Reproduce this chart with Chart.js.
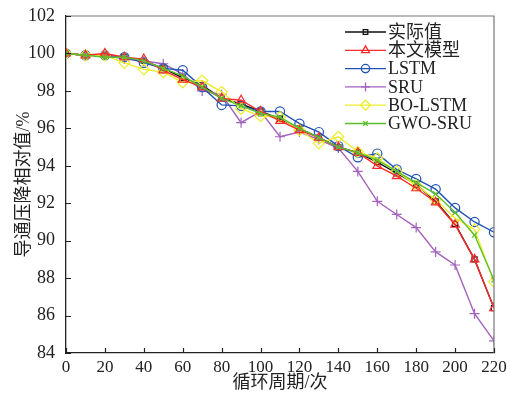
<!DOCTYPE html>
<html>
<head>
<meta charset="utf-8">
<script src="https://cdn.jsdelivr.net/npm/chart.js@4/dist/chart.umd.min.js"></script>
<style>
  html, body { margin: 0; padding: 0; background: #fff; }
  #wrap { width: 511px; height: 401px; }
</style>
</head>
<body>
<div id="wrap"><canvas id="chart"></canvas></div>
<script>
// ── Data ────────────────────────────────────────────────────────────────────
const cycles = [0, 10, 20, 30, 40, 50, 60, 70, 80, 90, 100, 110, 120, 130, 140, 150, 160, 170, 180, 190, 200, 210, 220];

const actual = [100, 99.9, 99.9, 99.8, 99.6, 99.2, 98.7, 98.3, 97.6, 97.3, 96.9, 96.5, 96.0, 95.5, 95.0, 94.7, 94.2, 93.6, 93.0, 92.1, 90.9, 89.0, 86.4];
const proposed = [100, 99.9, 100, 99.8, 99.7, 99.1, 98.6, 98.2, 97.6, 97.5, 96.9, 96.4, 95.9, 95.5, 95.0, 94.7, 94.0, 93.45, 92.8, 92.05, 90.85, 89.0, 86.4];
const lstm = [100, 99.9, 99.9, 99.8, 99.5, 99.2, 99.1, 98.2, 97.25, 97.2, 96.9, 96.9, 96.25, 95.8, 95.05, 94.45, 94.65, 93.8, 93.3, 92.75, 91.75, 91.0, 90.45];
const sru = [100, 99.9, 99.9, 99.7, 99.6, 99.45, 98.9, 98.0, 97.8, 96.3, 96.9, 95.55, 95.8, 95.4, 94.95, 93.7, 92.1, 91.4, 90.7, 89.4, 88.7, 86.1, 84.65];
const boLstm = [100, 99.9, 99.9, 99.5, 99.15, 99.0, 98.45, 98.55, 97.95, 97.05, 96.65, 96.6, 95.9, 95.2, 95.55, 94.75, 94.4, 93.7, 92.95, 92.2, 91.2, 90.6, 87.8];
const gwoSru = [100, 99.9, 99.8, 99.8, 99.6, 99.2, 98.8, 98.2, 97.6, 97.2, 96.8, 96.6, 96.0, 95.5, 95.0, 94.7, 94.3, 93.7, 93.1, 92.5, 91.5, 90.3, 87.9];

const seriesNames = ['实际值', '本文模型', 'LSTM', 'SRU', 'BO-LSTM', 'GWO-SRU'];
const seriesColors = ['#111111', '#ff2a2a', '#2152b5', '#a461bd', '#eded2a', '#5cbf2e'];
const seriesStyles = ['rect', 'triangle', 'circle', 'cross', 'rectRot', 'crossRot'];
const seriesRadius = [3.6, 5, 4.6, 5, 5.5, 3.6];
const seriesOrder = [5, 1, 3, 4, 2, 0];
const seriesValues = [actual, proposed, lstm, sru, boLstm, gwoSru];

const yTicks = [84, 86, 88, 90, 92, 94, 96, 98, 100, 102];
const xTicks = [0, 20, 40, 60, 80, 100, 120, 140, 160, 180, 200, 220];

const serif = '"Liberation Serif", "Noto Sans CJK SC", serif';
const cjk = '"Liberation Serif", "Noto Sans CJK SC", serif';

// ── Plugins ─────────────────────────────────────────────────────────────────
// inward tick marks + grey top/right frame
const frameTicks = {
    id: 'frameTicks',
    afterDraw(chart) {
        const { ctx, chartArea: a, scales } = chart;
        ctx.save();
        ctx.strokeStyle = '#777';
        ctx.lineWidth = 1.2;
        ctx.beginPath();
        ctx.moveTo(a.left, a.top);
        ctx.lineTo(a.right, a.top);
        ctx.lineTo(a.right, a.bottom);
        ctx.stroke();

        ctx.strokeStyle = '#222';
        ctx.lineWidth = 1.2;
        ctx.beginPath();
        yTicks.forEach(v => {
            const y = Math.round(scales.y.getPixelForValue(v)) + 0.5;
            ctx.moveTo(a.left, y);
            ctx.lineTo(a.left + 5, y);
        });
        xTicks.forEach(v => {
            const x = Math.round(scales.x.getPixelForValue(v)) + 0.5;
            ctx.moveTo(x, a.bottom);
            ctx.lineTo(x, a.bottom - 5);
        });
        ctx.stroke();
        ctx.restore();
    }
};

// legend with line + marker sample, top right inside the plot
const lineLegend = {
    id: 'lineLegend',
    afterDraw(chart) {
        const { ctx } = chart;
        ctx.save();
        ctx.font = '18px ' + cjk;
        ctx.textBaseline = 'middle';
        seriesNames.forEach((name, i) => {
            const y = 32 + i * 18.3;
            ctx.strokeStyle = seriesColors[i];
            ctx.lineWidth = 1.3;
            ctx.beginPath();
            ctx.moveTo(345, y);
            ctx.lineTo(386, y);
            ctx.stroke();
            ctx.fillStyle = 'rgba(0,0,0,0)';
            Chart.helpers.drawPoint(ctx, {
                pointStyle: seriesStyles[i],
                radius: seriesRadius[i] * 0.9,
                rotation: 0,
                borderWidth: 1.2
            }, 365.5, y);
            ctx.fillStyle = '#222';
            ctx.fillText(name, 388, y + 1);
        });
        ctx.restore();
    }
};

// ── Chart ───────────────────────────────────────────────────────────────────
const datasets = seriesNames.map((name, i) => ({
    label: name,
    data: cycles.map((c, k) => ({ x: c, y: seriesValues[i][k] })),
    borderColor: seriesColors[i],
    backgroundColor: 'rgba(0,0,0,0)',
    pointBorderColor: seriesColors[i],
    pointBackgroundColor: 'rgba(0,0,0,0)',
    pointStyle: seriesStyles[i],
    pointRadius: seriesRadius[i],
    pointBorderWidth: 1.2,
    borderWidth: 1.4,
    tension: 0,
    order: seriesOrder[i]
}));

new Chart(document.getElementById('chart'), {
    type: 'line',
    data: { datasets },
    options: {
        responsive: true,
        maintainAspectRatio: false,
        animation: false,
        layout: { padding: { left: 0, right: 17, top: 16, bottom: 0 } },
        plugins: {
            legend: { display: false },
            tooltip: { enabled: false }
        },
        scales: {
            x: {
                type: 'linear',
                min: 0,
                max: 220,
                afterFit(scale) { scale.height = 48; },
                afterBuildTicks(scale) { scale.ticks = xTicks.map(v => ({ value: v })); },
                grid: { display: false },
                border: { display: true, color: '#222', width: 1.3 },
                ticks: {
                    padding: -4,
                    maxRotation: 0,
                    autoSkip: false,
                    color: '#222',
                    font: { family: serif, size: 17 }
                },
                title: {
                    display: true,
                    text: '循环周期/次',
                    color: '#222',
                    padding: { top: 0, bottom: 7 },
                    font: { family: cjk, size: 18 }
                }
            },
            y: {
                min: 84,
                max: 102,
                afterFit(scale) { scale.width = 66; },
                afterBuildTicks(scale) { scale.ticks = yTicks.map(v => ({ value: v })); },
                grid: { display: false },
                border: { display: true, color: '#222', width: 1.3 },
                ticks: {
                    padding: 3,
                    autoSkip: false,
                    color: '#222',
                    font: { family: serif, size: 18 }
                },
                title: {
                    display: true,
                    text: '导通压降相对值/%',
                    color: '#222',
                    padding: { top: 13, bottom: 0 },
                    font: { family: cjk, size: 18 }
                }
            }
        }
    },
    plugins: [frameTicks, lineLegend]
});
</script>
</body>
</html>
